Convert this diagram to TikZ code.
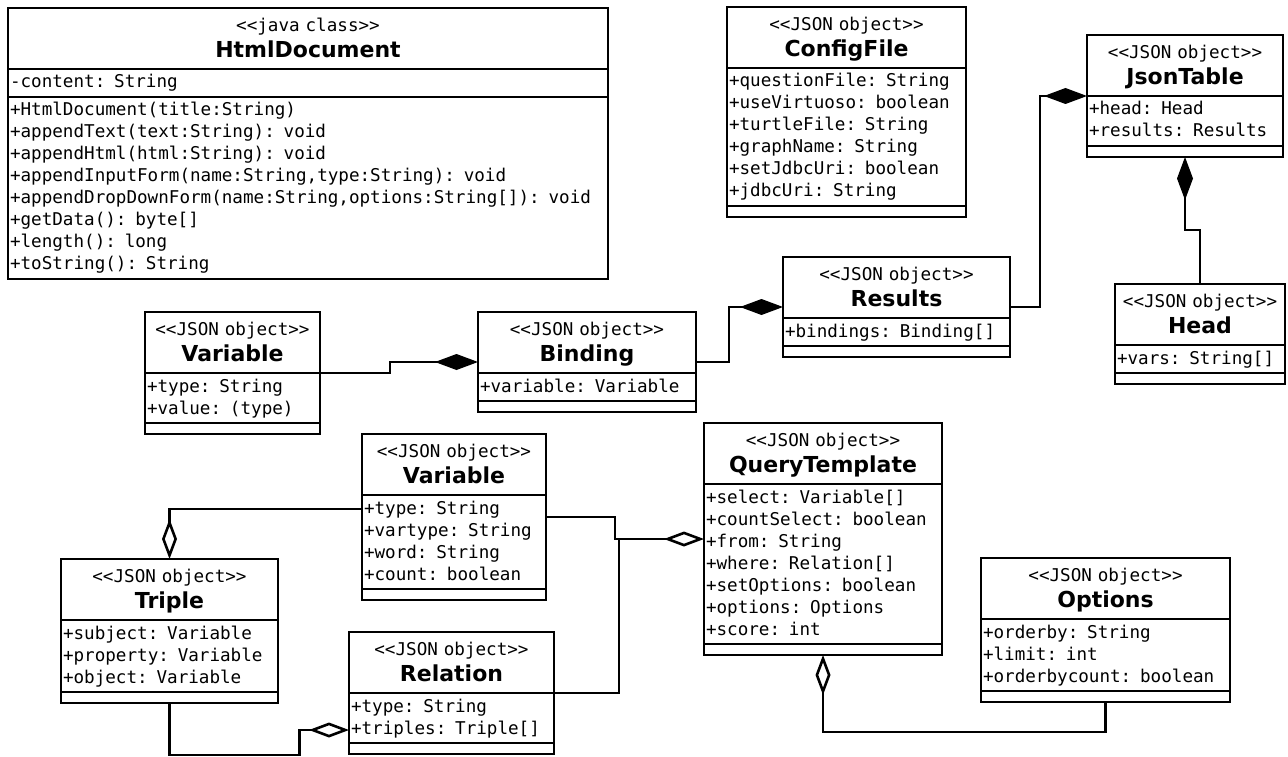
\documentclass[tikz,border=0pt]{standalone}
\usepackage{fontspec}
\setmonofont{DejaVu Sans Mono}
\setsansfont{DejaVu Sans}
\usepackage{tikz}
\usetikzlibrary{arrows.meta,%
	positioning,%
	calc}

\begin{document}
\begin{tikzpicture}[x=1pt,y=1pt,line width=2.6pt,
	every node/.style={draw,inner xsep=2pt,inner ysep=0pt,outer sep=0pt},
	class head/.style={anchor=north west,text width=#1,align=center,font=\fontsize{17.6}{25.6}\ttfamily\selectfont,
		execute at begin node={\rule{0pt}{23.5pt}},execute at end node={\rule[-11.9pt]{0pt}{11.9pt}}},
	class attr/.style={text width=#1,align=left,font=\fontsize{17.6}{22}\ttfamily\selectfont,
		execute at begin node={\rule{0pt}{19pt}},execute at end node={\rule[-9pt]{0pt}{9pt}}},
	class ops/.style={text width=#1,minimum height=11pt},
	class name/.style={font=\fontsize{22}{25.6}\sffamily\bfseries\selectfont},
	comp/.style={-{Diamond[length=43pt,width=16pt]}},
	aggr/.style={-{Diamond[open,length=40pt,width=15pt]}}]
	\useasboundingbox (0,0) rectangle (1288,-757);
		% HtmlDocument
		\node[class head=596] (htmldoc) at (8,-8) {<{}<java class>{}>\\{\fontsize{22}{25.6}\sffamily\bfseries\selectfont HtmlDocument}};
		\node[class attr=596] (htmldoc-attr) [below=0pt of htmldoc] {-content: String};
		\node[class attr=596] (htmldoc-ops) [below=0pt of htmldoc-attr] {+HtmlDocument(title:String)\\+appendText(text:String): void\\+appendHtml(html:String): void\\+appendInputForm(name:String,type:String): void\\+appendDropDownForm(name:String,options:String[]): void\\+getData(): byte[]\\+length(): long\\+toString(): String};
		% ConfigFile
		\node[class head=235] (config) at (727,-7) {<{}<JSON object>{}>\\{\fontsize{22}{25.6}\sffamily\bfseries\selectfont ConfigFile}};
		\node[class attr=235] (config-attr) [below=0pt of config] {+questionFile: String\\+useVirtuoso: boolean\\+turtleFile: String\\+graphName: String\\+setJdbcUri: boolean\\+jdbcUri: String};
		\node[class ops=235] (config-ops) [below=0pt of config-attr] {};
		% JsonTable
		\node[class head=192] (jsontable) at (1087,-35) {<{}<JSON object>{}>\\{\fontsize{22}{25.6}\sffamily\bfseries\selectfont JsonTable}};
		\node[class attr=192] (jsontable-attr) [below=0pt of jsontable] {+head: Head\\+results: Results};
		\node[class ops=192] (jsontable-ops) [below=0pt of jsontable-attr] {};
		% Results
		\node[class head=223] (results) at (783,-257) {<{}<JSON object>{}>\\{\fontsize{22}{25.6}\sffamily\bfseries\selectfont Results}};
		\node[class attr=223] (results-attr) [below=0pt of results] {+bindings: Binding[]};
		\node[class ops=223] (results-ops) [below=0pt of results-attr] {};
		% Head
		\node[class head=166] (head) at (1115,-284) {<{}<JSON object>{}>\\{\fontsize{22}{25.6}\sffamily\bfseries\selectfont Head}};
		\node[class attr=166] (head-attr) [below=0pt of head] {+vars: String[]};
		\node[class ops=166] (head-ops) [below=0pt of head-attr] {};
		% Variable
		\node[class head=171] (variable) at (145,-312) {<{}<JSON object>{}>\\{\fontsize{22}{25.6}\sffamily\bfseries\selectfont Variable}};
		\node[class attr=171] (variable-attr) [below=0pt of variable] {+type: String\\+value: (type)};
		\node[class ops=171] (variable-ops) [below=0pt of variable-attr] {};
		% Binding
		\node[class head=214] (binding) at (478,-312) {<{}<JSON object>{}>\\{\fontsize{22}{25.6}\sffamily\bfseries\selectfont Binding}};
		\node[class attr=214] (binding-attr) [below=0pt of binding] {+variable: Variable};
		\node[class ops=214] (binding-ops) [below=0pt of binding-attr] {};
		% Variable (query)
		\node[class head=180] (qvar) at (362,-434) {<{}<JSON object>{}>\\{\fontsize{22}{25.6}\sffamily\bfseries\selectfont Variable}};
		\node[class attr=180] (qvar-attr) [below=0pt of qvar] {+type: String\\+vartype: String\\+word: String\\+count: boolean};
		\node[class ops=180] (qvar-ops) [below=0pt of qvar-attr] {};
		% Triple
		\node[class head=213] (triple) at (61,-559) {<{}<JSON object>{}>\\{\fontsize{22}{25.6}\sffamily\bfseries\selectfont Triple}};
		\node[class attr=213] (triple-attr) [below=0pt of triple] {+subject: Variable\\+property: Variable\\+object: Variable};
		\node[class ops=213] (triple-ops) [below=0pt of triple-attr] {};
		% Relation
		\node[class head=201] (relation) at (349,-632) {<{}<JSON object>{}>\\{\fontsize{22}{25.6}\sffamily\bfseries\selectfont Relation}};
		\node[class attr=201] (relation-attr) [below=0pt of relation] {+type: String\\+triples: Triple[]};
		\node[class ops=201] (relation-ops) [below=0pt of relation-attr] {};
		% QueryTemplate
		\node[class head=234] (qtemp) at (704,-423) {<{}<JSON object>{}>\\{\fontsize{22}{25.6}\sffamily\bfseries\selectfont QueryTemplate}};
		\node[class attr=234] (qtemp-attr) [below=0pt of qtemp] {+select: Variable[]\\+countSelect: boolean\\+from: String\\+where: Relation[]\\+setOptions: boolean\\+options: Options\\+score: int};
		\node[class ops=234] (qtemp-ops) [below=0pt of qtemp-attr] {};
		% Options
		\node[class head=245] (options) at (981,-558) {<{}<JSON object>{}>\\{\fontsize{22}{25.6}\sffamily\bfseries\selectfont Options}};
		\node[class attr=245] (options-attr) [below=0pt of options] {+orderby: String\\+limit: int\\+orderbycount: boolean};
		\node[class ops=245] (options-ops) [below=0pt of options-attr] {};
		% connectors
		\coordinate (qjoin) at ($(qtemp-attr.north west)+(-85,-55)$);
		\draw[comp] (variable-attr.north east) -- ++(70,0) |- ($(binding.south west)+(0,11)$);
		\draw[comp] ($(binding.south east)+(0,11)$) -- ++(33,0) |- ($(results.south west)+(0,11)$);
		\draw[comp] ($(results.south east)+(0,11)$) -- ++(30,0) |- (jsontable.south west);
		\draw[comp] (head.north) -- ++(0,54) -| (jsontable-ops.south);
		\draw[aggr] ($(qvar-attr.north east)+(0,-22)$) -- ++(69,0) |- ($(qtemp-attr.north west)+(0,-55)$);
		\draw (relation-attr.north east) -| (qjoin);
		\draw[aggr] ($(qvar-attr.north west)+(0,-14)$) -| (triple.north);
		\draw[aggr] (triple-ops.south) -- ++(0,-52) -- ++(130,0) |- ($(relation-attr.north west)+(0,-37)$);
		\draw[aggr] (options-ops.south) -- ++(0,-30) -| (qtemp-ops.south);
\end{tikzpicture}
\end{document}
